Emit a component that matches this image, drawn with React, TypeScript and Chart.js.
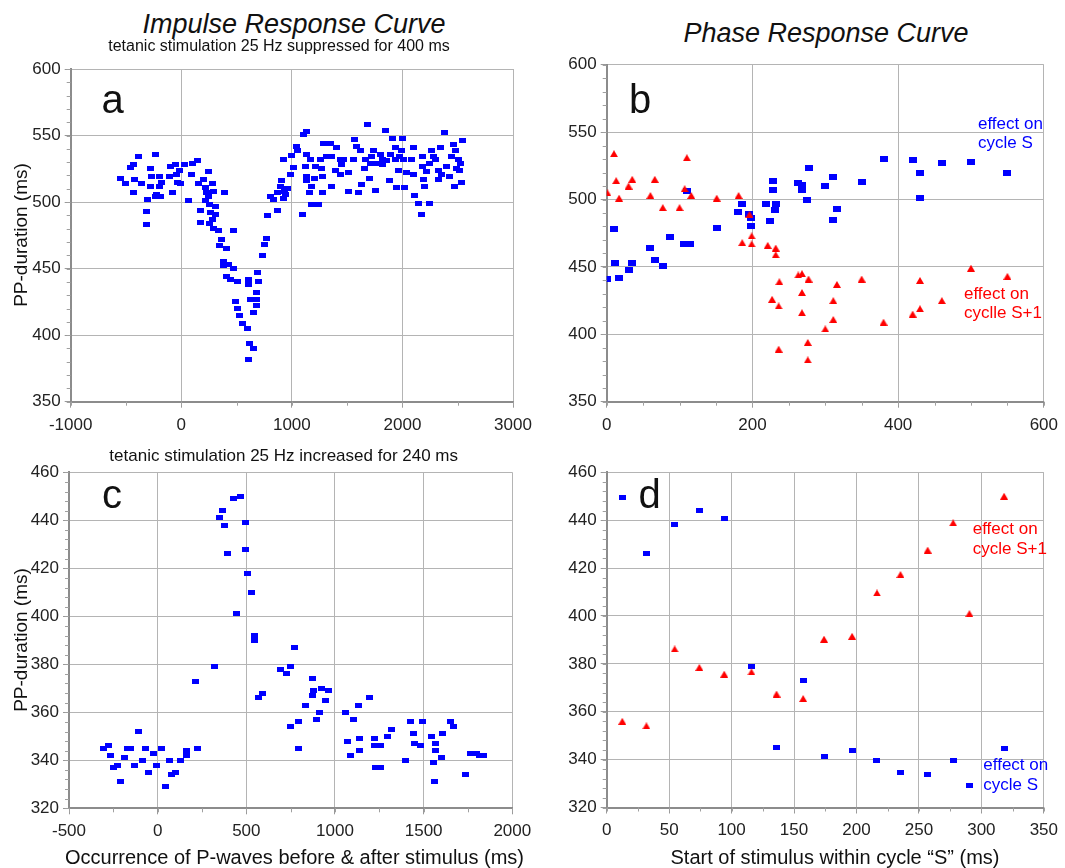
import React, { useEffect, useRef } from "react";
import { Chart, registerables } from "chart.js";
Chart.register(...registerables);

// ---------- Panel a: Impulse response, suppressed ----------
const irX = [-553,-501,-462,-432,-387,-426,-432,-356,-317,-317,-305,-281,-266,-275,-233,-236,-220,-199,-196,-190,-175,-109,-100,-75,-54,-39,-30,-15,-9,27,66,88,103,148,157,172,172,202,220,247,247,232,278,287,217,256,308,262,308,256,284,293,338,389,468,368,347,407,383,383,428,474,407,444,504,489,504,528,558,604,610,625,595,619,649,610,685,700,679,679,679,655,776,737,752,767,806,836,873,867,897,903,927,933,945,957,927,993,987,1017,1041,1053,
1105,1135,1099,1129,1120,1129,1135,1165,1160,1180,1180,1202,1211,1241,1262,1271,1280,1280,1286,1316,1352,1361,1361,1391,1406,1436,1451,1442,1466,1512,1512,1557,1566,1587,1602,1632,1617,1653,1662,1686,1698,1708,1723,1738,1753,1774,1798,1817,1817,1843,1858,1879,1888,1912,1933,1933,1948,1963,1978,1993,2000,2008,2023,2038,2083,2098,2104,2113,2143,2173,2183,2183,2189,2198,2219,2249,2249,2264,2279,2295,2325,2325,2340,2355,2385,2400,2430,2440,2461,2467,2476,2491,2506,2512,2521,2536,2545];
const irY = [518,514,526,528,534,517,507,514,493,483,502,525,519,512,536,504,506,519,512,504,515,519,527,507,528,521,515,524,514,528,501,521,529,531,514,494,485,517,511,523,504,507,514,508,501,498,497,492,491,484,487,480,479,507,479,472,467,465,455,452,453,450,444,442,440,425,420,415,409,442,438,427,405,394,390,382,447,440,432,427,422,417,490,460,468,473,504,502,494,507,512,516,503,508,506,510,532,535,521,526,542,539,
551,553,491,536,527,519,516,532,507,512,498,518,527,498,532,525,519,507,544,534,544,534,512,524,541,532,528,521,532,522,508,532,547,542,507,513,539,525,532,558,518,529,534,539,509,529,536,532,528,554,531,516,536,548,541,532,511,524,534,539,548,532,511,522,532,541,521,505,499,491,534,527,517,512,523,499,529,539,534,532,524,517,541,521,552,527,519,534,543,512,539,525,532,524,529,515,546];

// ---------- Panel b: Phase response, suppressed ----------
const prbSX = [1,10,12,17,30,35,60,66,77,87,106,114,110,151,180,186,196,198,198,218,224,228,228,231,233,263,268,268,275,278,300,311,311,316,350,380,420,430,430,460,500,550];
const prbSY = [441,478,453,442,448,453,464,455,451,472,467,467,506,479,491,497,489,486,480,497,484,514,507,492,497,512,511,507,500,523,510,517,485,493,513,530,529,520,501,527,528,520];
const prbS1X = [1,10,13,17,30,35,60,66,77,100,107,110,116,151,181,186,196,199,199,221,232,232,237,227,236,236,263,268,268,268,277,276,276,300,311,311,316,350,380,420,430,430,460,500,550];
const prbS1Y = [505,534,514,501,510,515,503,515,494,494,508,531,503,501,503,468,489,473,467,466,464,459,439,426,421,389,444,445,431,416,441,394,381,404,425,411,437,441,409,415,419,440,425,449,443];

// ---------- Panel c: Impulse response, increased ----------
const incX = [-308,-280,-268,-249,-225,-207,-188,-170,-151,-129,-109,-87,-68,-50,-26,-7,24,46,66,79,100,129,162,162,227,214,319,347,365,378,393,430,467,498,498,504,528,443,546,546,568,590,690,724,750,769,750,793,793,831,874,878,872,893,912,925,966,949,1062,1071,1090,1107,1131,1137,1137,1197,1225,1225,1259,1231,1259,1295,1319,1400,1426,1441,1451,1485,1492,1546,1569,1569,1558,1563,1599,1607,1652,1670,1736,1766,1798,1817,1839];
const incY = [345,346,342,337,338,331,341,345,345,338,352,340,345,335,343,338,345,329,340,334,335,340,342,344,345,373,379,441,444,438,426,449,450,439,428,418,410,401,392,390,366,368,378,376,379,387,354,356,345,363,374,369,367,357,360,370,369,365,360,348,342,357,363,349,344,366,349,346,346,337,337,350,353,340,356,351,347,346,356,350,347,344,339,331,341,351,356,354,334,343,343,342,342];

// ---------- Panel d: Phase response, increased ----------
const prdX = [12.5,31.8,54.4,74.2,94.1,115.9,136,157.3,174,196.5,216.4,235.2,257,277.4,290.4,318.2];
const prdSY = [449.6,426.1,438.2,444,440.7,379,345.1,373.2,341.4,343.7,339.7,334.6,333.9,339.5,329,344.6];
const prdS1Y = [356,354.1,386.2,378.5,375.7,376.6,367.4,365.5,390.3,391.5,409.6,417.3,427.5,438.9,401,450];

const FONT = '"Liberation Sans", Arial, Helvetica, sans-serif';
const BLUE = "#0000ff";
const RED = "#ff0000";

function makeMarker(shape: string, w: number, h: number, color: string) {
  const c = document.createElement("canvas");
  c.width = w;
  c.height = h;
  const g = c.getContext("2d")!;
  g.fillStyle = color;
  if (shape === "rect") {
    g.fillRect(0, 0, w, h);
  } else {
    g.beginPath();
    g.moveTo(0, h);
    g.lineTo(w / 2, 0);
    g.lineTo(w, h);
    g.closePath();
    g.fill();
  }
  return c;
}

const minorTicks = {
  id: "minorTicks",
  afterDraw(chart: any) {
    const o = chart.options.plugins.minorTicks;
    if (!o) return;
    const { ctx, chartArea: a, scales } = chart;
    const xs = scales.x;
    const ys = scales.y;
    ctx.save();
    ctx.strokeStyle = "#a0a0a0";
    ctx.lineWidth = 1;
    ctx.beginPath();
    for (let v = xs.min; v <= xs.max + 1e-6; v += o.x) {
      const p = Math.round(xs.getPixelForValue(v)) + 0.5;
      ctx.moveTo(p, a.bottom);
      ctx.lineTo(p, a.bottom + 4);
    }
    for (let v = ys.min; v <= ys.max + 1e-6; v += o.y) {
      const p = Math.round(ys.getPixelForValue(v)) + 0.5;
      ctx.moveTo(a.left - 4, p);
      ctx.lineTo(a.left, p);
    }
    ctx.stroke();
    ctx.restore();
  },
};

type Series = { xs: number[]; ys: number[]; shape: string; w: number; h: number; color: string };
type Box = { l: number; t: number; w: number; h: number };
type Area = { l: number; t: number; r: number; b: number };
type AxisSpec = { min: number; max: number; step: number; minor: number };

function Panel(props: { box: Box; area: Area; x: AxisSpec; y: AxisSpec; series: Series[] }) {
  const ref = useRef<HTMLCanvasElement>(null);
  const { box, area, x, y, series } = props;
  useEffect(() => {
    const datasets = series.map((s) => ({
      data: s.xs.map((v, i) => ({ x: v, y: s.ys[i] })),
      pointStyle: makeMarker(s.shape, s.w, s.h, s.color) as any,
      pointRadius: 3,
      pointHoverRadius: 3,
      showLine: false,
    }));
    const tickFont = { family: FONT, size: 17 };
    const chart = new Chart(ref.current!, {
      type: "scatter",
      data: { datasets },
      options: {
        animation: false,
        responsive: false,
        events: [],
        layout: { padding: { top: area.t - box.t, right: box.l + box.w - area.r, left: 0, bottom: 0 } },
        plugins: {
          legend: { display: false },
          tooltip: { enabled: false },
          minorTicks: { x: x.minor, y: y.minor },
        } as any,
        scales: {
          x: {
            type: "linear",
            min: x.min,
            max: x.max,
            afterFit: (s: any) => {
              s.height = box.t + box.h - area.b;
            },
            ticks: {
              stepSize: x.step,
              font: tickFont,
              color: "#222",
              padding: 7,
              maxRotation: 0,
              autoSkip: false,
              callback: (v: any) => String(v),
            },
            grid: { color: "#b4b4b4", lineWidth: 1, tickLength: 6, tickColor: "#999" },
            border: { color: "#8c8c8c", width: 2 },
          },
          y: {
            type: "linear",
            min: y.min,
            max: y.max,
            afterFit: (s: any) => {
              s.width = area.l - box.l;
            },
            ticks: {
              stepSize: y.step,
              font: tickFont,
              color: "#222",
              padding: 4,
              autoSkip: false,
              callback: (v: any) => String(v),
            },
            grid: { color: "#b4b4b4", lineWidth: 1, tickLength: 6, tickColor: "#999" },
            border: { color: "#8c8c8c", width: 2 },
          },
        },
      },
      plugins: [minorTicks as any],
    });
    return () => chart.destroy();
  }, []);
  return (
    <canvas
      ref={ref}
      width={box.w}
      height={box.h}
      style={{ position: "absolute", left: box.l, top: box.t, width: box.w, height: box.h }}
    />
  );
}

function Txt(props: {
  x: number;
  base: number;
  size: number;
  align?: "left" | "center";
  color?: string;
  italic?: boolean;
  children: any;
}) {
  const { x, base, size, align = "left", color = "#111", italic = false, children } = props;
  return (
    <div
      style={{
        position: "absolute",
        left: x,
        top: base - size * 0.8465,
        fontSize: size,
        lineHeight: size + "px",
        fontFamily: FONT,
        fontStyle: italic ? "italic" : "normal",
        color,
        whiteSpace: "nowrap",
        transform: align === "center" ? "translateX(-50%)" : undefined,
      }}
    >
      {children}
    </div>
  );
}

function VTitle(props: { cx: number; cy: number; size: number; children: any }) {
  return (
    <div
      style={{
        position: "absolute",
        left: props.cx,
        top: props.cy,
        fontSize: props.size,
        lineHeight: props.size + "px",
        fontFamily: FONT,
        color: "#111",
        whiteSpace: "nowrap",
        transform: "translate(-50%, -50%) rotate(-90deg)",
      }}
    >
      {props.children}
    </div>
  );
}

export default function App() {
  const sq = (xs: number[], ys: number[], w = 7, h = 5): Series => ({ xs, ys, shape: "rect", w, h, color: BLUE });
  const tri = (xs: number[], ys: number[], w = 8, h = 7): Series => ({ xs, ys, shape: "tri", w, h, color: RED });
  return (
    <div style={{ position: "absolute", left: 0, top: 0, width: 1065, height: 868, background: "#fff", overflow: "hidden" }}>
      <Panel
        box={{ l: 0, t: 50, w: 540, h: 390 }}
        area={{ l: 70.7, t: 69, r: 513, b: 401.7 }}
        x={{ min: -1000, max: 3000, step: 1000, minor: 500 }}
        y={{ min: 350, max: 600, step: 50, minor: 10 }}
        series={[sq(irX, irY)]}
      />
      <Panel
        box={{ l: 545, t: 50, w: 520, h: 390 }}
        area={{ l: 606.7, t: 64.7, r: 1049.3, b: 401.7 }}
        x={{ min: 0, max: 600, step: 200, minor: 50 }}
        y={{ min: 350, max: 600, step: 50, minor: 10 }}
        series={[tri(prbS1X, prbS1Y, 8, 7), sq(prbSX, prbSY, 8, 6)]}
      />
      <Panel
        box={{ l: 0, t: 455, w: 540, h: 413 }}
        area={{ l: 69, t: 472.3, r: 512.3, b: 808.3 }}
        x={{ min: -500, max: 2000, step: 500, minor: 250 }}
        y={{ min: 320, max: 460, step: 20, minor: 4 }}
        series={[sq(incX, incY)]}
      />
      <Panel
        box={{ l: 545, t: 455, w: 520, h: 413 }}
        area={{ l: 606.7, t: 472.3, r: 1049.3, b: 807.5 }}
        x={{ min: 0, max: 350, step: 50, minor: 25 }}
        y={{ min: 320, max: 460, step: 20, minor: 4 }}
        series={[tri(prdX, prdS1Y, 8, 7), sq(prdX, prdSY)]}
      />

      <Txt x={294} base={34} size={27} align="center" italic>Impulse Response Curve</Txt>
      <Txt x={279} base={52} size={16} align="center">tetanic stimulation 25 Hz suppressed for 400 ms</Txt>
      <Txt x={826} base={43} size={27} align="center" italic>Phase Response Curve</Txt>
      <Txt x={283.7} base={461.5} size={17} align="center">tetanic stimulation 25 Hz increased for 240 ms</Txt>

      <Txt x={101.5} base={113} size={40}>a</Txt>
      <Txt x={629} base={112.7} size={40}>b</Txt>
      <Txt x={102} base={508} size={40}>c</Txt>
      <Txt x={638.5} base={508} size={40}>d</Txt>

      <Txt x={978} base={129} size={17} color={BLUE}>effect on</Txt>
      <Txt x={978} base={148.5} size={17} color={BLUE}>cycle S</Txt>
      <Txt x={964} base={299} size={17} color={RED}>effect on</Txt>
      <Txt x={964} base={318.5} size={17} color={RED}>cyclle S+1</Txt>
      <Txt x={972.7} base={534} size={17} color={RED}>effect on</Txt>
      <Txt x={972.7} base={554} size={17} color={RED}>cycle S+1</Txt>
      <Txt x={983.3} base={770.4} size={17} color={BLUE}>effect on</Txt>
      <Txt x={983.3} base={790.4} size={17} color={BLUE}>cycle S</Txt>

      <VTitle cx={20} cy={235} size={19}>PP-duration (ms)</VTitle>
      <VTitle cx={20} cy={640} size={19}>PP-duration (ms)</VTitle>
      <Txt x={294.5} base={864} size={20} align="center">Occurrence of P-waves before &amp; after stimulus (ms)</Txt>
      <Txt x={835} base={864} size={20} align="center">Start of stimulus within cycle “S” (ms)</Txt>
    </div>
  );
}
